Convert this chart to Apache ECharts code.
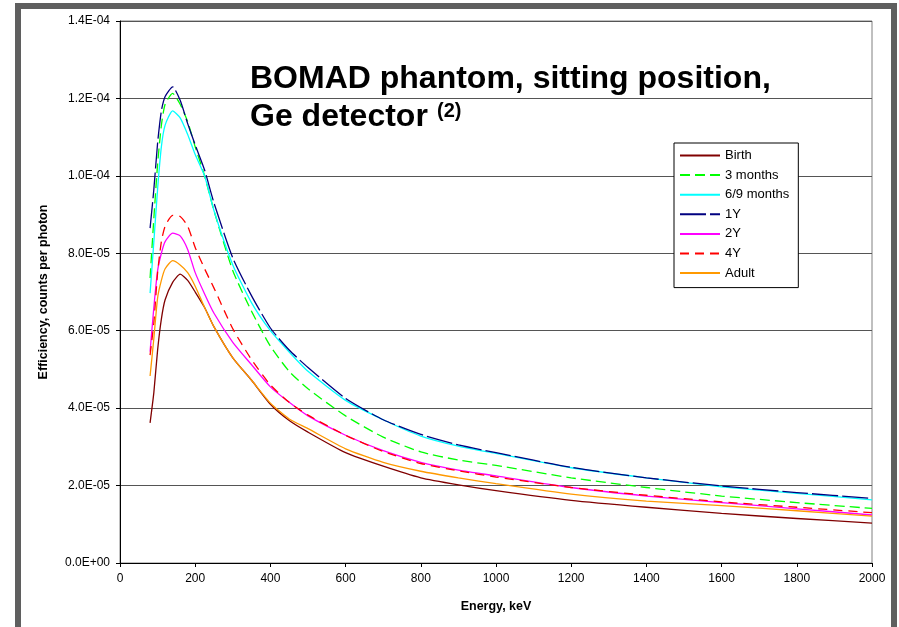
<!DOCTYPE html>
<html>
<head>
<meta charset="utf-8">
<script src="https://cdn.jsdelivr.net/npm/echarts@6/dist/echarts.min.js"></script>
<style>
html,body{margin:0;padding:0;background:#fff;}
#chart{width:899px;height:627px;}
</style>
</head>
<body>
<div id="chart"></div>
<script>
// Energy (keV)
const energies = [80, 90, 100, 110, 120, 140, 160, 180, 200, 225, 250, 300, 350, 400, 450, 500, 600, 700, 800, 900, 1000, 1200, 1400, 1600, 1800, 2000];
// Efficiency values in units of 1E-05 counts per photon
const birth    = [3.62, 4.4, 5.5, 6.3, 6.8, 7.25, 7.46, 7.3, 7.0, 6.6, 6.1, 5.3, 4.72, 4.1, 3.68, 3.38, 2.85, 2.5, 2.2, 2.02, 1.87, 1.62, 1.44, 1.28, 1.15, 1.03];
const months3  = [7.36, 8.9, 10.3, 11.3, 11.85, 12.13, 11.85, 11.4, 10.75, 10.0, 9.1, 7.55, 6.5, 5.6, 4.95, 4.5, 3.8, 3.25, 2.87, 2.66, 2.52, 2.2, 1.95, 1.73, 1.56, 1.41];
const months69 = [6.97, 8.3, 9.66, 10.75, 11.31, 11.68, 11.5, 11.07, 10.55, 10.0, 9.1, 7.7, 6.72, 6.0, 5.45, 4.95, 4.2, 3.7, 3.28, 3.02, 2.83, 2.46, 2.2, 1.97, 1.8, 1.63];
const year1    = [8.65, 9.65, 10.85, 11.68, 12.05, 12.3, 11.95, 11.35, 10.8, 10.15, 9.3, 7.88, 6.9, 6.07, 5.5, 5.05, 4.25, 3.7, 3.32, 3.05, 2.85, 2.47, 2.2, 1.99, 1.82, 1.67];
const year2    = [5.46, 6.6, 7.55, 8.0, 8.3, 8.52, 8.45, 8.1, 7.5, 6.95, 6.45, 5.7, 5.12, 4.55, 4.15, 3.8, 3.3, 2.9, 2.6, 2.4, 2.25, 1.95, 1.73, 1.56, 1.4, 1.24];
const year4    = [5.37, 6.2, 7.5, 8.3, 8.7, 8.98, 8.95, 8.7, 8.15, 7.6, 7.1, 6.05, 5.25, 4.6, 4.15, 3.82, 3.3, 2.88, 2.57, 2.38, 2.22, 1.95, 1.75, 1.58, 1.44, 1.30];
const adult    = [4.83, 5.8, 6.85, 7.3, 7.6, 7.81, 7.7, 7.5, 7.15, 6.6, 6.1, 5.3, 4.72, 4.13, 3.72, 3.47, 2.95, 2.6, 2.37, 2.2, 2.05, 1.78, 1.6, 1.48, 1.35, 1.21];

const seriesNames = ['Birth', '3 months', '6/9 months', '1Y', '2Y', '4Y', 'Adult'];
const yTickLabels = ['0.0E+00', '2.0E-05', '4.0E-05', '6.0E-05', '8.0E-05', '1.0E-04', '1.2E-04', '1.4E-04'];
const xTickLabels = ['0', '200', '400', '600', '800', '1000', '1200', '1400', '1600', '1800', '2000'];

const FONT = "Arial, 'Liberation Sans', sans-serif";
const seriesValues = [birth, months3, months69, year1, year2, year4, adult];
const styles = [
  {color: '#800000', type: 'solid'},
  {color: '#00FF00', type: [10, 5]},
  {color: '#00FFFF', type: 'solid'},
  {color: '#000080', type: [26, 4]},
  {color: '#FF00FF', type: 'solid'},
  {color: '#FF0000', type: [9, 6]},
  {color: '#FF9900', type: 'solid'}
];

const chart = echarts.init(document.getElementById('chart'), null, {renderer: 'canvas'});
chart.setOption({
  animation: false,
  backgroundColor: '#ffffff',
  grid: {left: 120, right: 27, top: 21, bottom: 64, show: true, borderColor: '#808080', borderWidth: 1},
  xAxis: {
    type: 'value', min: 0, max: 2000, interval: 200,
    axisLine: {show: true, onZero: false, lineStyle: {color: '#000', width: 1}},
    axisTick: {show: true, length: 4, lineStyle: {color: '#000'}},
    axisLabel: {fontSize: 12, color: '#000', fontFamily: FONT, margin: 10,
      formatter: v => xTickLabels[Math.round(v / 200)]},
    splitLine: {show: false},
    name: 'Energy, keV', nameLocation: 'middle', nameGap: 37,
    nameTextStyle: {fontSize: 12.5, fontWeight: 'bold', color: '#000', fontFamily: FONT}
  },
  yAxis: {
    type: 'value', min: 0, max: 14, interval: 2,
    axisLine: {show: true, lineStyle: {color: '#000', width: 1}},
    axisTick: {show: true, length: 4, lineStyle: {color: '#000'}},
    axisLabel: {fontSize: 12, color: '#000', fontFamily: FONT, margin: 10,
      formatter: v => yTickLabels[Math.round(v / 2)]},
    splitLine: {show: true, lineStyle: {color: '#555555', width: 1}},
    name: 'Efficiency, counts per photon', nameLocation: 'middle', nameGap: 70, nameRotate: 90,
    nameTextStyle: {fontSize: 12.5, fontWeight: 'bold', color: '#000', fontFamily: FONT}
  },
  legend: {
    orient: 'vertical', left: 674, top: 143,
    itemWidth: 40, itemHeight: 12, itemGap: 6.6,
    padding: [6, 9, 8, 5],
    borderColor: '#000', borderWidth: 1, backgroundColor: '#ffffff',
    itemStyle: {opacity: 0},
    textStyle: {fontSize: 13, color: '#000', fontFamily: FONT},
    data: seriesNames
  },
  graphic: [
    {type: 'rect', silent: true, z: 100,
     shape: {x: 18, y: 6, width: 876, height: 630},
     style: {fill: 'none', stroke: '#5f5f5f', lineWidth: 6}},
    {type: 'text', left: 250, top: 63, silent: true,
     style: {text: 'BOMAD phantom, sitting position,', font: "bold 32px Arial, 'Liberation Sans', sans-serif", fill: '#000'}},
    {type: 'text', left: 250, top: 101, silent: true,
     style: {text: 'Ge detector', font: "bold 32px Arial, 'Liberation Sans', sans-serif", fill: '#000'}},
    {type: 'text', left: 437, top: 101, silent: true,
     style: {text: '(2)', font: "bold 20px Arial, 'Liberation Sans', sans-serif", fill: '#000'}}
  ],
  series: seriesNames.map((name, k) => ({
    name: name,
    type: 'line',
    symbol: 'none',
    showSymbol: false,
    smooth: 0.2,
    color: styles[k].color,
    lineStyle: {color: styles[k].color, width: 1.3, type: styles[k].type},
    data: energies.map((e, i) => [e, seriesValues[k][i]])
  }))
});
</script>
</body>
</html>
